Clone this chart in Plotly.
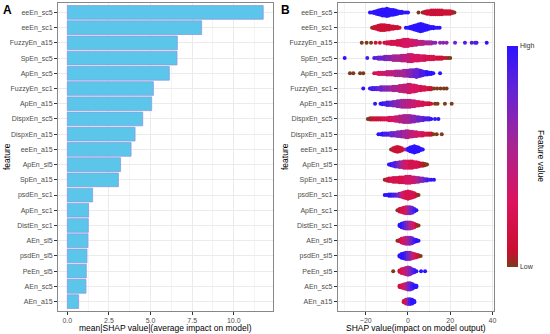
import plotly.graph_objects as go

# ---------------- data ----------------
FEATURES = ["eeEn_sc5", "eeEn_sc1", "FuzzyEn_a15", "SpEn_sc5", "ApEn_sc5", "FuzzyEn_sc1",
            "ApEn_a15", "DispxEn_sc5", "DispxEn_a15", "eeEn_a15", "ApEn_sl5", "SpEn_a15",
            "psdEn_sc1", "ApEn_sc1", "DistEn_sc1", "AEn_sl5", "psdEn_sl5", "PeEn_sl5",
            "AEn_sc5", "AEn_a15"]

MEAN_ABS_SHAP = [11.77, 8.07, 6.61, 6.59, 6.13, 5.17, 5.07, 4.53, 4.07, 3.83,
                 3.20, 3.07, 1.52, 1.28, 1.26, 1.24, 1.18, 1.14, 1.12, 0.68]

X_TICKS_A = [0, 2.5, 5, 7.5, 10]
X_TICKTEXT_A = ["0.0", "2.5", "5.0", "7.5", "10.0"]
X_TICKS_B = [-20, 0, 20, 40]

# beeswarm: SHAP value bins, number of stacked points, feature value (0 low .. 9 high)
SWARM_X = [
    [-18,-17,-16,-15,-14,-13,-12,-11,-10,-9,-8,-7,-6,-5,-4,-3,-2,-1,0, 5, 7,8,9,10,11,12,13,14,15,16,17,18,19,20,21,22],
    [-17,-16,-15,-14,-13,-12,-11,-10,-9,-8,-7,-6,-5,-4, -1,0,1,2,3,4,5,6,7,8,9,10,11,12,13,14,15],
    [-21.9,-19.6,-17.5,-15.3,-13.3,-11.2, -10,-9,-8,-7,-6,-5,-4,-3,-2,-1,0,1,2,3,4,5,6,7,8,9,10,11,12,13,
     15.2,16.7,18.3,22.3,27,30.2,31.8,32.5,37.3],
    [-30,-19.3, -16,-15,-14,-13,-12,-11,-10,-9,-8,-7,-6,-5,-4,-3,-2,-1,0,1,2,3,4,5,6,7,8,9,10,11,12,13,14,15,16,17,18,19,20],
    [-27.5,-25.9,-22.7,-21.2, -16,-15,-14,-13,-12,-11,-10,-9,-8,-7,-6,-5,-4,-3,-2,-1,0,1,2,3,4,5,6,7,8,9,10,11, 12,15.2],
    [-21.2, -18,-17,-16,-15,-14,-13,-12,-11,-10,-9,-8,-7,-6,-5,-4,-3,-2,-1,0,1,2,3,4,5,6,7,8,9,10,11, 12.4,13.8,15.4,17,18.3],
    [-15.6, -13,-12,-11,-10,-9,-8,-7,-6,-5,-4,-3,-2,-1,0,1,2,3,4,5,6,7,8,9,10,11, 12.8,14,17.5,20.7],
    [-19,-18,-17,-16,-15,-14,-13,-12,-11,-10,-9,-8,-7,-6,-5,-4,-3,-2,-1,0,1,2,3,4,5,6,7,8,9,10,11, 12.8,14.4],
    [-14,-13,-12,-11,-10,-9,-8,-7,-6,-5,-4,-3,-2,-1,0,1,2,3,4,5,6,7,8,9,10,11, 12,13.6,16],
    [-8,-7,-6,-5,-4,-3,-2,-1,0,1,2,3,4,5,6,7],
    [-9,-8,-7,-6,-5,-4,-3,-2,-1,0,1,2,3,4,5,6,7,8,9],
    [-11,-10,-9,-8,-7,-6,-5,-4,-3,-2,-1,0,1,2,3,4,5,6,7,8,9,10,11, 12.3],
    [-11,-10,-9,-8,-7,-6,-5,-4,-3,-2,-1,0,1,2,3,4,5],
    [-5,-4,-3,-2,-1,0,1,2,3,4],
    [-4,-3,-2,-1,0,1,2,3,4,5],
    [-5,-4,-3,-2,-1,0,1,2,3,4,5],
    [-4,-3,-2,-1,0,1,2,3,4,5,6],
    [-7,-4,-3,-2,-1,0,1,2,3,4,6.2,8.1],
    [-4,-3,-2,-1,0,1,2,3,4],
    [-2,-1,0,1,2,3],
]
SWARM_N = [
    [1,1,2,3,4,5,6,6,7,6,5,5,4,3,2,2,1,1,1, 1, 1,2,3,3,4,4,4,4,4,4,3,3,3,3,2,1],
    [1,2,3,4,5,5,5,4,4,3,3,2,2,1, 1,1,2,3,4,5,6,7,6,5,4,3,2,2,1,1,1],
    [1,1,1,1,1,1, 2,2,3,3,3,4,4,5,6,6,6,5,5,4,4,3,3,3,2,2,2,2,1,1, 1,1,1,1,1,1,1,1,1],
    [1,1, 1,1,2,2,2,3,3,3,3,4,4,4,4,5,5,5,6,6,6,5,5,5,4,4,4,3,3,3,3,2,2,2,2,1,1,1,1],
    [1,1,1,1, 1,1,2,2,2,2,3,3,3,3,4,4,4,4,5,5,5,6,6,6,7,6,5,4,3,3,2,2, 1,1],
    [1, 1,2,2,2,2,3,3,3,3,3,3,4,4,4,5,5,6,6,7,7,6,6,5,4,4,3,3,2,2,2, 1,1,1,1,1],
    [1, 1,2,2,3,3,3,4,4,5,5,6,6,6,6,6,5,5,4,4,3,3,2,2,2,1, 1,1,1,1],
    [1,2,2,2,2,2,2,2,2,2,3,3,3,4,4,5,5,6,6,6,6,5,5,4,4,3,3,2,2,2,1, 1,1],
    [1,1,2,2,2,2,3,3,3,4,4,5,5,6,6,5,5,4,4,3,3,3,2,2,2,2, 1,1,1],
    [1,3,4,5,4,3,1,1,2,4,5,6,5,4,2,1],
    [1,2,3,4,4,5,5,6,6,6,6,6,5,5,4,3,3,2,1],
    [1,2,3,3,4,4,4,5,5,5,6,6,6,5,5,4,4,3,3,2,2,1,1, 1],
    [1,1,2,2,2,2,2,3,4,5,6,7,6,5,4,2,1],
    [1,3,4,5,6,6,6,5,3,1],
    [2,4,5,6,6,6,5,4,2,1],
    [1,2,4,5,6,6,6,5,3,2,1],
    [2,4,5,6,6,6,5,4,3,2,1],
    [1,2,4,5,6,7,6,4,3,1,1,1],
    [2,3,4,5,6,6,5,3,2],
    [2,4,5,5,4,2],
]
SWARM_FV = [
    [9,9,9,9,9,9,9,9,9,9,9,9,9,9,9,9,9,9,9, 0, 0,1,1,1,1,1,1,1,1,1,1,1,1,1,1,0],
    [0,1,1,1,1,1,1,1,1,1,1,1,1,1, 9,9,9,9,9,9,9,9,9,9,9,9,9,9,9,9,9],
    [0,0,0,1,1,1, 2,2,2,2,2,2,2,2,3,3,3,3,3,3,4,4,4,4,5,5,5,5,6,6, 6,6,6,7,8,8,8,8,9],
    [9,8, 8,8,7,7,7,7,6,6,6,5,5,5,5,5,4,4,4,4,3,3,3,3,3,3,2,2,2,2,2,2,1,1,1,1,1,0,0],
    [0,0,0,0, 2,2,3,3,3,3,4,4,4,4,4,5,5,5,5,5,6,6,6,7,7,7,8,8,8,9,9,9, 9,9],
    [9, 9,8,8,8,7,7,7,6,6,6,5,5,5,5,4,4,4,4,4,3,3,3,3,3,2,2,2,2,1,1, 0,0,0,0,0],
    [9, 9,9,8,8,8,7,7,6,6,6,5,5,5,4,4,4,4,3,3,3,2,2,2,1,1, 0,0,0,0],
    [0,0,1,1,1,1,1,2,2,2,2,3,3,3,4,4,4,5,5,5,5,6,6,6,7,7,7,8,8,8,9, 9,9],
    [9,9,9,8,8,8,7,7,7,6,6,6,5,5,5,4,4,4,3,3,3,2,2,2,1,1, 0,0,0],
    [0,1,1,1,1,1,1,5,9,9,9,9,9,9,9,9],
    [9,9,8,8,7,6,5,4,3,3,2,2,2,2,2,1,1,0,0],
    [0,1,1,2,2,2,2,2,2,2,3,3,3,3,4,4,5,6,6,7,8,8,9, 9],
    [9,9,9,9,8,8,7,6,4,3,2,2,2,2,2,1,0],
    [0,1,2,2,3,5,6,7,8,9],
    [9,9,8,7,6,5,4,3,1,0],
    [0,1,2,3,4,5,6,7,8,9,9],
    [9,9,9,8,7,6,5,3,2,1,0],
    [0,1,2,3,4,5,6,7,8,9,9,9],
    [1,2,3,4,6,7,8,9,9],
    [1,2,6,8,9,9],
]

# ---------------- styling ----------------
W, H = 550, 334
FONT = "Liberation Sans, Arial, sans-serif"
BAR_COLOR = "#5bc6ea"
COLORSCALE = [[0.0, "#7d3a1c"], [0.07, "#c8102e"], [0.3, "#dc145e"], [0.55, "#a82492"],
              [0.8, "#6424d4"], [1.0, "#2c14ff"]]
STACK_STEP = 0.08

def px_x(p):
    return p / W

def px_y(p):
    return 1 - p / H

n_feat = len(FEATURES)
ypos = [n_feat - i for i in range(n_feat)]

# beeswarm layout (vertical stacking of the read counts)
sx, sy, sc = [], [], []
for i in range(n_feat):
    yc = ypos[i]
    for xv, nv, fv in zip(SWARM_X[i], SWARM_N[i], SWARM_FV[i]):
        for k in range(nv):
            sx.append(xv)
            sy.append(yc + (k - (nv - 1) / 2) * STACK_STEP)
            sc.append(fv)

fig = go.Figure()
fig.add_trace(go.Bar(
    x=MEAN_ABS_SHAP, y=ypos, orientation="h", width=0.9,
    marker=dict(color=BAR_COLOR, line=dict(color="#8a9be0", width=0.8)),
    xaxis="x", yaxis="y", showlegend=False, hoverinfo="skip"))

fig.add_trace(go.Scatter(
    x=sx, y=sy, mode="markers", xaxis="x2", yaxis="y2", showlegend=False,
    marker=dict(size=4, color=sc, colorscale=COLORSCALE, cmin=0, cmax=9,
                line=dict(width=0), showscale=True,
                colorbar=dict(x=px_x(507), xanchor="left", xref="paper",
                              y=px_y((46 + 267) / 2), yanchor="middle", yref="paper",
                              len=(267 - 46) / H, lenmode="fraction", thickness=11,
                              outlinewidth=0, tickvals=[0, 9], ticktext=["Low", "High"],
                              ticks="", xpad=0, ypad=0,
                              tickfont=dict(family=FONT, size=7, color="#333333")))))

axis_common = dict(showline=True, mirror=True, linecolor="#888888", linewidth=1,
                   ticks="outside", ticklen=3, tickcolor="#333333", tickwidth=1,
                   gridcolor="#ebebeb", gridwidth=1, zeroline=False, automargin=False,
                   tickfont=dict(family=FONT, size=7, color="#4d4d4d"))
ydom = [px_y(310.7), px_y(3.3)]

fig.update_layout(
    width=W, height=H, margin=dict(l=0, r=0, t=0, b=0, autoexpand=False),
    paper_bgcolor="white", plot_bgcolor="white", font=dict(family=FONT),
    xaxis=dict(domain=[px_x(58), px_x(272.7)], range=[-0.56, 12.34], anchor="y",
               tickvals=X_TICKS_A, ticktext=X_TICKTEXT_A,
               minor=dict(tickvals=[1.25, 3.75, 6.25, 8.75, 11.25], showgrid=True,
                          gridcolor="#f4f4f4", ticks=""), **axis_common),
    yaxis=dict(domain=ydom, range=[0.4, n_feat + 0.6], anchor="x",
               tickvals=ypos, ticktext=FEATURES, **axis_common),
    xaxis2=dict(domain=[px_x(337.7), px_x(494.3)], range=[-33.3, 40.9], anchor="y2",
                tickvals=X_TICKS_B,
                minor=dict(tickvals=[-30, -10, 10, 30], showgrid=True,
                           gridcolor="#f4f4f4", ticks=""), **axis_common),
    yaxis2=dict(domain=ydom, range=[0.4, n_feat + 0.6], anchor="x2",
                tickvals=ypos, ticktext=FEATURES, **axis_common),
)

ann = []
def add_text(text, xp, yp, size=8.5, angle=0, color="black", bold=False):
    ann.append(dict(text=("<b>%s</b>" % text) if bold else text, x=px_x(xp), y=px_y(yp),
                    xref="paper", yref="paper", showarrow=False, textangle=angle,
                    xanchor="center", yanchor="middle",
                    font=dict(family=FONT, size=size, color=color)))

add_text("A", 7, 10, size=12, bold=True)
add_text("B", 285, 10, size=12, bold=True)
add_text("feature", 7, 157, angle=-90)
add_text("feature", 285, 157, angle=-90)
add_text("mean|SHAP value|(average impact on model)", 165, 327.5)
add_text("SHAP value(impact on model output)", 416, 327.5)
add_text("Feature value", 541, 156, angle=90)
fig.update_layout(annotations=ann)

fig.write_html("out.html", config={"displayModeBar": False},
               post_script="document.body.style.margin='0';document.body.style.overflow='hidden';")
